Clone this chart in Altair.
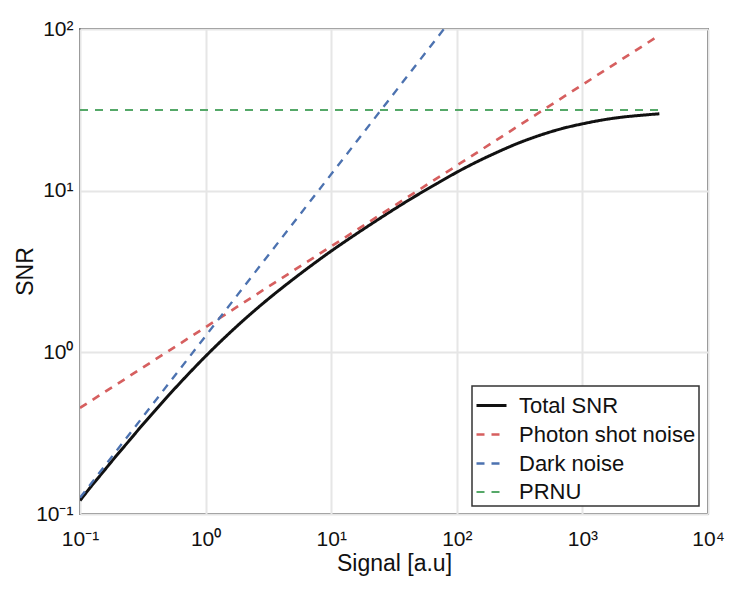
import altair as alt
import pandas as pd

series_names = ["Total SNR", "Photon shot noise", "Dark noise", "PRNU"]
series_colors = ["#111111", "#D65F5F", "#4C72B0", "#55A868"]
series_widths = [3.0, 2.0, 2.0, 2.5]

# Total SNR curve
total_x = [0.1, 0.12, 0.15, 0.2, 0.25, 0.3, 0.4, 0.5, 0.7, 1, 1.5, 2, 3, 5, 7,
           10, 15, 20, 30, 50, 70, 100, 150, 200, 300, 500, 700, 1000, 1500,
           2000, 3000, 4100]
total_y = [0.121, 0.145, 0.179, 0.235, 0.288, 0.341, 0.440, 0.535, 0.710, 0.946,
           1.285, 1.577, 2.07, 2.84, 3.46, 4.23, 5.25, 6.09, 7.47, 9.54, 11.1,
           13.0, 15.3, 17.0, 19.5, 22.5, 24.3, 25.9, 27.5, 28.4, 29.3, 29.9]

# Straight lines in log-log space (endpoints)
shot_x = [0.1, 4100]
shot_y = [0.453, 91.5]
dark_x = [0.1, 79]
dark_y = [0.126, 100]
prnu_x = [0.1, 4100]
prnu_y = [31.6, 31.6]

x_ticks = [0.1, 1, 10, 100, 1000, 10000]
y_ticks = [0.1, 1, 10, 100]

rows = []
for name, xs, ys in [
    ("Total SNR", total_x, total_y),
    ("Photon shot noise", shot_x, shot_y),
    ("Dark noise", dark_x, dark_y),
    ("PRNU", prnu_x, prnu_y),
]:
    for i, (xv, yv) in enumerate(zip(xs, ys)):
        rows.append({"series": name, "signal": xv, "snr": yv, "order": i})
df = pd.DataFrame(rows)

FONT = "Liberation Sans"
label_expr = "'10' + ['\u207b\u00b9','\u2070','\u00b9','\u00b2','\u00b3','\u2074'][round(log(datum.value)/LN10)+1]"

x_axis = alt.Axis(
    values=x_ticks, labelExpr=label_expr, grid=True, ticks=False, tickSize=0,
    domain=False, labelFontSize=21, labelPadding=14, labelFlush=False,
    title="Signal [a.u]", titleFontSize=23, titleFontWeight="normal",
    titleBaseline="alphabetic", titleY=56,
)
y_axis = alt.Axis(
    values=y_ticks, labelExpr=label_expr, grid=True, ticks=False, tickSize=0,
    domain=False, labelFontSize=21, labelPadding=7, labelFlush=False,
    title="SNR", titleFontSize=23, titleFontWeight="normal",
    titleAngle=270, titleBaseline="alphabetic", titleAlign="center",
    titleX=-48, titleY=242,
)

legend = alt.Legend(
    title=None, orient="none", legendX=392, legendY=357, direction="vertical",
    symbolType="stroke", symbolSize=900, labelFontSize=22, labelFont=FONT,
    rowPadding=1, padding=3, strokeColor="#333333", fillColor="white",
    labelOffset=11, labelColor="#111111", labelLimit=400,
)

chart = alt.Chart(df).mark_line(clip=True, interpolate="monotone").encode(
    x=alt.X("signal:Q", scale=alt.Scale(type="log", domain=[0.1, 10000], nice=False), axis=x_axis),
    y=alt.Y("snr:Q", scale=alt.Scale(type="log", domain=[0.1, 100], nice=False), axis=y_axis),
    color=alt.Color("series:N", scale=alt.Scale(domain=series_names, range=series_colors), legend=legend),
    strokeDash=alt.StrokeDash("series:N", scale=alt.Scale(domain=series_names,
                              range=[[1, 0], [8, 7], [8, 7], [8, 7]]), legend=legend),
    strokeWidth=alt.StrokeWidth("series:N", scale=alt.Scale(domain=series_names, range=series_widths), legend=legend),
    order="order:Q",
    detail="series:N",
).properties(
    width=628, height=485,
    autosize=alt.AutoSizeParams(type="none"),
    padding={"left": 72, "top": 21, "right": 38, "bottom": 68},
    background="white",
).configure_view(
    stroke="#333333", strokeWidth=1.7,
).configure_axis(
    labelFont=FONT, titleFont=FONT, labelColor="#111111", titleColor="#111111",
    gridColor="#e6e6e6", gridWidth=2,
).configure_legend(
    strokeWidth=1.5,
)

chart.save("out.html", embed_options={"renderer": "svg", "actions": False})
